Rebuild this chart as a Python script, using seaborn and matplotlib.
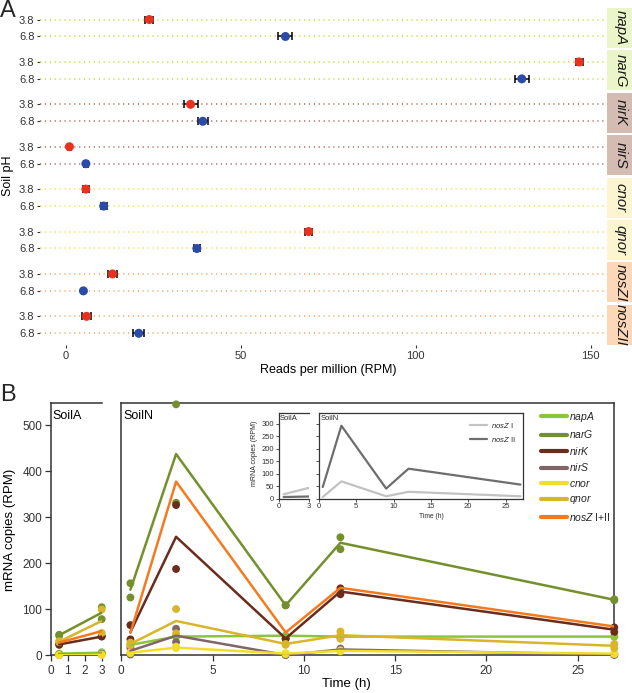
import numpy as np
import pandas as pd
import matplotlib
matplotlib.use("Agg")
import matplotlib.pyplot as plt
import seaborn as sns
from matplotlib.lines import Line2D

sns.set_theme(style="white")
plt.rcParams['font.family'] = ['Liberation Sans', 'DejaVu Sans']
plt.rcParams['mathtext.fontset'] = 'custom'
plt.rcParams['mathtext.it'] = 'Liberation Sans:italic'
plt.rcParams['mathtext.rm'] = 'Liberation Sans'

# ---------------- Panel A data ----------------
genes_A = ["napA", "narG", "nirK", "nirS", "cnor", "qnor", "nosZI", "nosZII"]
ph_levels = ["3.8", "6.8"]
rpm_ph38 = [23.9, 146.7, 35.7, 1.1, 5.8, 69.4, 13.4, 6.0]
rpm_ph68 = [62.8, 130.3, 39.2, 5.8, 10.9, 37.5, 5.1, 20.9]
sd_ph38 = [1.2, 1.0, 2.0, 0.5, 0.8, 1.0, 1.3, 1.2]
sd_ph68 = [2.0, 2.0, 1.5, 0.5, 0.8, 0.8, 0.3, 1.6]
strip_fill = ["#eaf5c9", "#eaf5c9", "#d4bcb2", "#d4bcb2",
              "#fdf5cf", "#fdf5cf", "#fcd8b9", "#fcd8b9"]
dotline_color = ["#c9dc33", "#c9dc33", "#b06a60", "#b06a60",
                 "#f0e23e", "#f0e23e", "#f7a660", "#f7a660"]
ph_colors = {"3.8": "#e8321e", "6.8": "#2a4ba8"}

# ---------------- Panel B data ----------------
genes_B = ["napA", "narG", "nirK", "nirS", "cnor", "qnor", "nosZ I+II"]
gene_colors = ["#8cc43c", "#74902c", "#6a2c1c", "#806666",
               "#f2de2a", "#d9b52a", "#f47a20"]
time_soilA = [0.5, 3]
time_soilN = [0.5, 3, 9, 12, 27]

# SoilA means
soilA_napA = [3, 5]
soilA_narG = [43, 92]
soilA_nirK = [23, 40]
soilA_nirS = [1, 2]
soilA_cnor = [0, 1]
soilA_qnor = [29, 74]
soilA_nosZ = [27, 52]
# SoilA replicate points
soilA_pts_napA = [[3, 5], [2, 6]]
soilA_pts_narG = [[44, 104], [42, 78]]
soilA_pts_nirK = [[24, 41], [22, 40]]
soilA_pts_nirS = [[1, 2], [0, 1]]
soilA_pts_cnor = [[0, 1], [0, 0]]
soilA_pts_qnor = [[30, 99], [28, 48]]

# SoilN means
soilN_napA = [22, 40, 42, 40, 40]
soilN_narG = [142, 437, 108, 244, 120]
soilN_nirK = [50, 257, 36, 138, 55]
soilN_nirS = [9, 42, 0, 12, 1]
soilN_cnor = [5, 16, 3, 9, 3]
soilN_qnor = [24, 74, 24, 43, 20]
soilN_nosZ = [48, 377, 49, 146, 62]
# SoilN replicate points
soilN_pts_napA = [[20, 40, 42, 38, 40], [24, 40, 42, 42, 40]]
soilN_pts_narG = [[156, 545, 108, 256, 121], [125, 331, 108, 230, 119]]
soilN_pts_nirK = [[65, 326, 36, 145, 60], [34, 187, 35, 132, 50]]
soilN_pts_nirS = [[15, 57, 0, 14, 1], [1, 28, 0, 10, 0]]
soilN_pts_cnor = [[6, 18, 4, 10, 4], [4, 15, 2, 8, 2]]
soilN_pts_qnor = [[27, 100, 24, 51, 24], [21, 47, 22, 35, 15]]

# Inset (nosZ clades)
inset_genes = ["nosZ I", "nosZ II"]
inset_colors = ["#c2c2c2", "#6e6e6e"]
insetA_nosZI = [17, 43]
insetA_nosZII = [6, 8]
insetN_nosZI = [6, 69, 9, 27, 9]
insetN_nosZII = [46, 293, 40, 120, 56]

# ---------------- figure ----------------
W, H = 632, 693
fig = plt.figure(figsize=(W / 100, H / 100), dpi=100)


def add_ax(l, t, r, b):
    return fig.add_axes([l / W, 1 - b / H, (r - l) / W, (b - t) / H])


def ftext(x, y, s, **kw):
    return fig.text(x / W, 1 - y / H, s, **kw)


TXT = "#333333"

# ---------- Panel A ----------
A_left, A_right, A_strip_r = 40, 606.5, 632
top0, pitch, ph_h = 8, 42.4, 40
for i, g in enumerate(genes_A):
    t = top0 + i * pitch
    ax = add_ax(A_left, t, A_right, t + ph_h)
    df = pd.DataFrame({
        "pH": ph_levels,
        "rpm": [rpm_ph38[i], rpm_ph68[i]],
        "sd": [sd_ph38[i], sd_ph68[i]],
    })
    df["ypos"] = [ph_levels.index(p) for p in df["pH"]]
    for y in df["ypos"]:
        ax.axhline(y, color=dotline_color[i], ls=(0, (0.8, 2.4)), lw=1.1, zorder=1)
    ax.errorbar(df["rpm"], df["ypos"], xerr=df["sd"], fmt="none",
                ecolor="black", elinewidth=1.1, capsize=3.2, capthick=1.1, zorder=2)
    sns.scatterplot(data=df, x="rpm", y="ypos", hue="pH", palette=ph_colors,
                    s=42, edgecolor="none", legend=False, ax=ax, zorder=3)
    ax.set_xlim(-7.3, 154.5)
    ax.set_ylim(1.68, -0.68)
    ax.set_yticks([0, 1])
    ax.set_yticklabels(ph_levels)
    ax.set_xlabel("")
    ax.set_ylabel("")
    for sp in ax.spines.values():
        sp.set_visible(False)
    ax.set_facecolor("white")
    ax.tick_params(axis="y", length=2.5, width=0.8, pad=1.5, labelsize=8,
                   colors=TXT, left=True)
    if i == len(genes_A) - 1:
        ax.set_xticks([0, 50, 100, 150])
        ax.tick_params(axis="x", length=2.5, width=0.8, pad=2, labelsize=8,
                       colors=TXT, bottom=True)
    else:
        ax.set_xticks([])
    sax = add_ax(A_right, t, A_strip_r, t + ph_h)
    sax.set_facecolor(strip_fill[i])
    sax.set_xticks([])
    sax.set_yticks([])
    for sp in sax.spines.values():
        sp.set_visible(False)
    sax.text(0.55, 0.5, g, rotation=270, ha="center", va="center",
             fontsize=10.8, style="italic", color="#1a1a1a", transform=sax.transAxes)

ftext(8, 11, "A", fontsize=17, ha="center", va="center")
ftext(8, 176, "Soil pH", rotation=90, fontsize=9, ha="center", va="center", color="black")
ftext(328, 370, "Reads per million (RPM)", fontsize=9, ha="center", va="center", color="black")

# ---------- Panel B ----------
ftext(8, 395, "B", fontsize=17, ha="center", va="center")

pal = dict(zip(genes_B, gene_colors))

meansA = [soilA_napA, soilA_narG, soilA_nirK, soilA_nirS, soilA_cnor, soilA_qnor, soilA_nosZ]
ptsA = [soilA_pts_napA, soilA_pts_narG, soilA_pts_nirK, soilA_pts_nirS, soilA_pts_cnor, soilA_pts_qnor]
meansN = [soilN_napA, soilN_narG, soilN_nirK, soilN_nirS, soilN_cnor, soilN_qnor, soilN_nosZ]
ptsN = [soilN_pts_napA, soilN_pts_narG, soilN_pts_nirK, soilN_pts_nirS, soilN_pts_cnor, soilN_pts_qnor]


def mean_df(times, means):
    rows = []
    for g, vals in zip(genes_B, means):
        for tt, v in zip(times, vals):
            rows.append((g, tt, v))
    return pd.DataFrame(rows, columns=["gene", "time", "rpm"])


def pts_df(times, pts):
    rows = []
    for g, reps in zip(genes_B, pts):
        for rep in reps:
            for tt, v in zip(times, rep):
                rows.append((g, tt, v))
    return pd.DataFrame(rows, columns=["gene", "time", "rpm"])


B_top, B_bot = 402.5, 655
axA = add_ax(50.7, B_top, 101.7, B_bot)
axN = add_ax(121.3, B_top, 614.3, B_bot)

for ax, times, means, pts in [(axA, time_soilA, meansA, ptsA), (axN, time_soilN, meansN, ptsN)]:
    sns.scatterplot(data=pts_df(times, pts), x="time", y="rpm", hue="gene",
                    hue_order=genes_B, palette=pal, s=32, edgecolor="none",
                    legend=False, ax=ax, clip_on=False, zorder=3)
    sns.lineplot(data=mean_df(times, means), x="time", y="rpm", hue="gene",
                 hue_order=genes_B, palette=pal, lw=1.8, legend=False, ax=ax,
                 estimator=None, sort=False, zorder=4)
    ax.set_ylim(0, 549)
    ax.set_xlabel("")
    ax.set_ylabel("")
    ax.set_facecolor("white")
    for sp in ax.spines.values():
        sp.set_color("#333333")
        sp.set_linewidth(1.1)

axA.set_xlim(0, 3)
axA.set_xticks([0, 1, 2, 3])
axA.set_yticks([0, 100, 200, 300, 400, 500])
axA.spines["right"].set_visible(False)
axA.tick_params(axis="both", length=4, width=0.9, pad=2, labelsize=8.5,
                colors=TXT, left=True, bottom=True)
axA.tick_params(axis="x", pad=3)
axN.set_xlim(0, 27)
axN.set_xticks([0, 5, 10, 15, 20, 25])
axN.set_yticks([])
axN.tick_params(axis="x", length=4, width=0.9, pad=3, labelsize=8.5,
                colors=TXT, bottom=True)

axA.text(0.03, 0.97, "SoilA", transform=axA.transAxes, ha="left", va="top", fontsize=9, color="black")
axN.text(0.004, 0.97, "SoilN", transform=axN.transAxes, ha="left", va="top", fontsize=9, color="black")

ftext(10, 530, "mRNA copies (RPM)", rotation=90, fontsize=9.5, ha="center", va="center", color="black")
ftext(346, 684, "Time (h)", fontsize=9.5, ha="center", va="center", color="black")

# legend
leg_labels = [r"$\it{napA}$", r"$\it{narG}$", r"$\it{nirK}$", r"$\it{nirS}$",
              r"$\it{cnor}$", r"$\it{qnor}$", r"$\it{nosZ}$ I+II"]
handles = [Line2D([0], [0], color=c, lw=3) for c in gene_colors]
fig.legend(handles, leg_labels, loc="upper left",
           bbox_to_anchor=(541 / W, 1 - 410 / H), frameon=False, fontsize=7.5,
           handlelength=2.5, handletextpad=0.2, labelspacing=0.43, borderpad=0,
           borderaxespad=0)

# ---------- Inset ----------
in_top, in_bot = 413.3, 498.5
insA = add_ax(278.5, in_top, 309, in_bot)
insN = add_ax(319, in_top, 522.7, in_bot)
inset_pal = dict(zip(inset_genes, inset_colors))


def inset_df(times, s1, s2):
    rows = [(inset_genes[0], tt, v) for tt, v in zip(times, s1)]
    rows += [(inset_genes[1], tt, v) for tt, v in zip(times, s2)]
    return pd.DataFrame(rows, columns=["clade", "time", "rpm"])


sns.lineplot(data=inset_df(time_soilA, insetA_nosZI, insetA_nosZII), x="time", y="rpm",
             hue="clade", palette=inset_pal, lw=1.6, legend=False, ax=insA, estimator=None)
sns.lineplot(data=inset_df(time_soilN, insetN_nosZI, insetN_nosZII), x="time", y="rpm",
             hue="clade", palette=inset_pal, lw=1.6, legend=False, ax=insN, estimator=None)
for ax in (insA, insN):
    ax.set_ylim(0, 343)
    ax.set_xlabel("")
    ax.set_ylabel("")
    ax.set_facecolor("white")
    for sp in ax.spines.values():
        sp.set_color("#333333")
        sp.set_linewidth(0.9)
insA.spines["right"].set_visible(False)
insA.set_xlim(0, 3)
insA.set_xticks([0, 3])
insA.set_yticks([0, 50, 100, 150, 200, 250, 300])
insA.tick_params(axis="both", length=2, width=0.6, pad=1, labelsize=5.5,
                 colors=TXT, left=True, bottom=True)
insN.set_xlim(0, 27.3)
insN.set_xticks([0, 5, 10, 15, 20, 25])
insN.set_yticks([0, 50, 100, 150, 200, 250, 300])
insN.set_yticklabels([])
insN.tick_params(axis="both", length=2, width=0.6, pad=1, labelsize=5.5,
                 colors=TXT, left=True, bottom=True)
insA.text(0.04, 0.98, "SoilA", transform=insA.transAxes, ha="left", va="top", fontsize=5.5)
insN.text(0.01, 0.98, "SoilN", transform=insN.transAxes, ha="left", va="top", fontsize=5.5)
ftext(255, 453, "mRNA copies (RPM)", rotation=90, fontsize=5, ha="center", va="center")
ftext(431, 517, "Time (h)", fontsize=4.8, ha="center", va="center")
ins_handles = [Line2D([0], [0], color=c, lw=1.6) for c in inset_colors]
insN.legend(ins_handles, [r"$\it{nosZ}$ I", r"$\it{nosZ}$ II"], loc="upper right",
            frameon=False, fontsize=5.5, handlelength=2.2, handletextpad=0.5,
            labelspacing=0.6, borderaxespad=0.6)

fig.savefig("out.png", dpi=100)
